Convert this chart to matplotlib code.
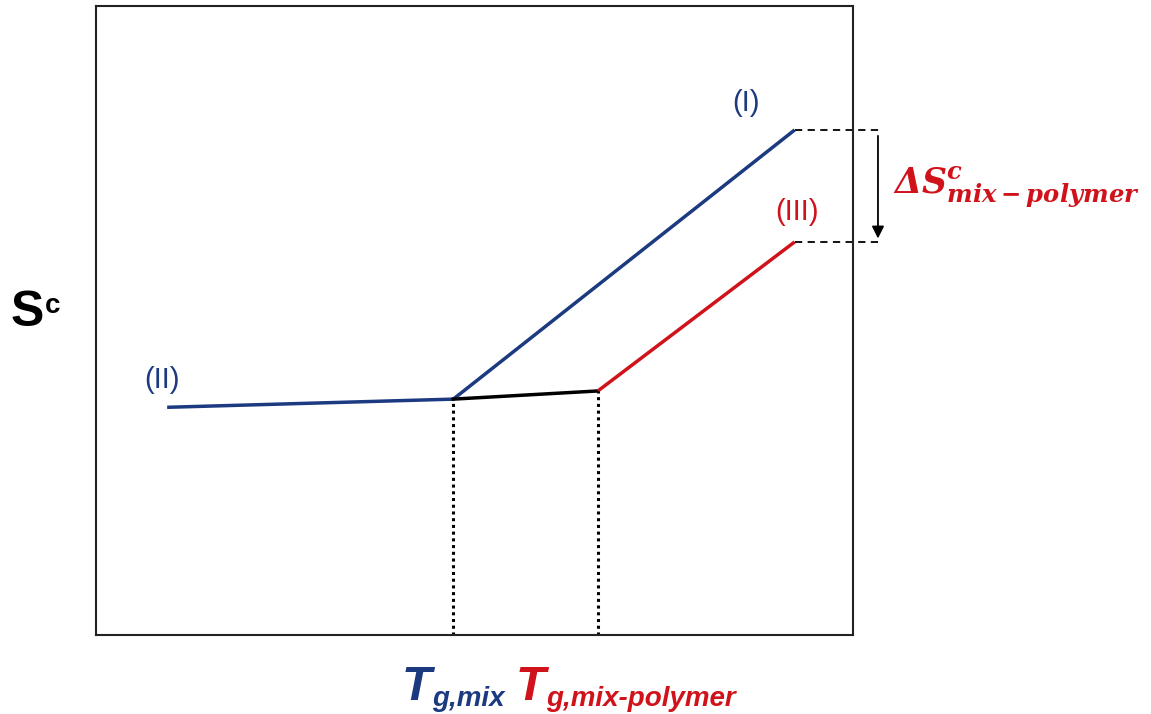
import matplotlib.pyplot as plt

# schematic values (arbitrary units)
x_start = 9.4
tg_mix = 47.2
tg_mix_polymer = 66.3
x_end = 92.3
s_start = 36.2
s_tg_mix = 37.5
s_tg_mix_polymer = 38.8
s_end_I = 80.3
s_end_III = 62.5

blue = '#1b3a80'
red = '#d0121b'

plt.rcParams['font.family'] = ['Liberation Sans', 'DejaVu Sans']
plt.rcParams['mathtext.fontset'] = 'dejavuserif'

fig = plt.figure(figsize=(11.51, 7.14), dpi=100)
ax = fig.add_axes([96 / 1151, 1 - 635 / 714, 757 / 1151, 629 / 714])
ax.set_xlim(0, 100)
ax.set_ylim(0, 100)
ax.set_xticks([])
ax.set_yticks([])
for sp in ax.spines.values():
    sp.set_linewidth(1.5)
    sp.set_color('#222222')

# (II) glass line and (I) equilibrium line
ax.plot([x_start, tg_mix], [s_start, s_tg_mix], color=blue, lw=2.5, solid_capstyle='butt')
ax.plot([tg_mix, x_end], [s_tg_mix, s_end_I], color=blue, lw=2.5, solid_capstyle='butt')
# between the two Tg
ax.plot([tg_mix, tg_mix_polymer], [s_tg_mix, s_tg_mix_polymer], color='black', lw=2.5)
# (III)
ax.plot([tg_mix_polymer, x_end], [s_tg_mix_polymer, s_end_III], color=red, lw=2.5, solid_capstyle='butt')

# dotted drops to the x axis
ax.plot([tg_mix, tg_mix], [0, s_tg_mix], color='black', lw=2.2, ls=(0, (1, 1.2)))
ax.plot([tg_mix_polymer, tg_mix_polymer], [0, s_tg_mix_polymer], color='black', lw=2.2, ls=(0, (1, 1.2)))

# dashed guides outside the box
x_guide = 103.6
ax.plot([x_end, x_guide], [s_end_I, s_end_I], color='black', lw=1.3, ls=(0, (4, 3)), clip_on=False)
ax.plot([x_end, x_guide], [s_end_III, s_end_III], color='black', lw=1.3, ls=(0, (4, 3)), clip_on=False)
ax.annotate('', xy=(103.3, s_end_III + 0.1), xytext=(103.3, s_end_I - 0.5),
            arrowprops=dict(arrowstyle='-|>', color='black', lw=1.3, mutation_scale=18),
            annotation_clip=False)

# curve labels
ax.text(85.8, 84.5, '(I)', color=blue, fontsize=21, ha='center', va='center')
ax.text(92.6, 67.3, '(III)', color=red, fontsize=21, ha='center', va='center')
ax.text(8.7, 40.6, '(II)', color=blue, fontsize=21, ha='center', va='center')

ax.text(105.3, 71.3, r'$\mathbfit{\Delta S}^{\mathbfit{c}}_{\mathbfit{mix-polymer}}$',
        color=red, fontsize=25, ha='left', va='center', clip_on=False)

# y label S^c
fig.text(11 / 1151, 1 - 313 / 714, 'S', fontsize=36, fontweight='bold', ha='left', va='center')
fig.text(45 / 1151, 1 - 306 / 714, 'c', fontsize=20, fontweight='bold', ha='left', va='center')

# x labels
fig.text(402 / 1151, 1 - 688 / 714, 'T', fontsize=35, fontweight='bold', style='italic',
         color=blue, ha='left', va='center')
fig.text(432 / 1151, 1 - 699 / 714, 'g,mix', fontsize=20, fontweight='bold', style='italic',
         color=blue, ha='left', va='center')
fig.text(516 / 1151, 1 - 688 / 714, 'T', fontsize=35, fontweight='bold', style='italic',
         color=red, ha='left', va='center')
fig.text(546 / 1151, 1 - 699 / 714, 'g,mix-polymer', fontsize=20, fontweight='bold', style='italic',
         color=red, ha='left', va='center')

fig.savefig('out.png', dpi=100)
